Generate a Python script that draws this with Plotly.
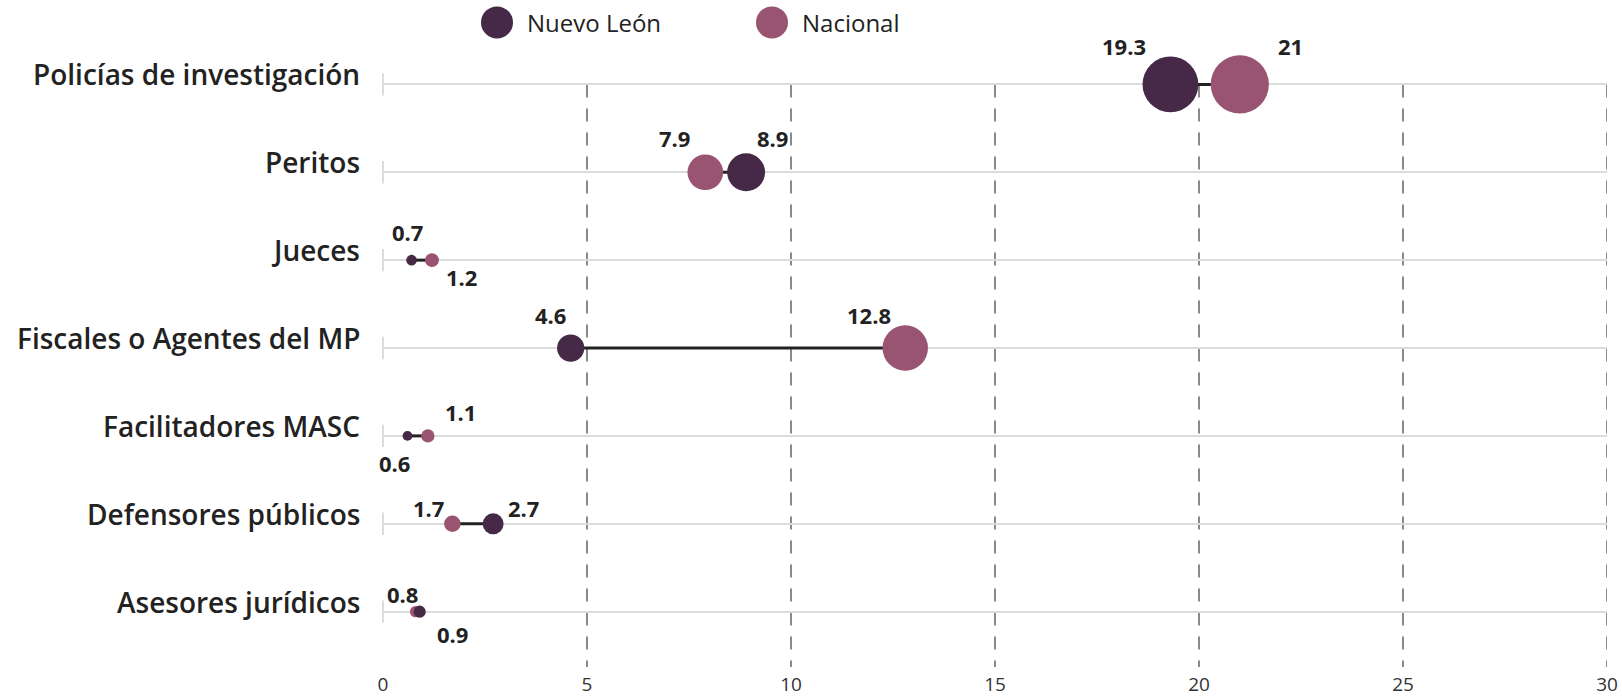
import math
import plotly.graph_objects as go

categories = ["Policías de investigación", "Peritos", "Jueces",
              "Fiscales o Agentes del MP", "Facilitadores MASC",
              "Defensores públicos", "Asesores jurídicos"]
nuevo_leon = [19.3, 8.9, 0.7, 4.6, 0.6, 2.7, 0.9]
nacional = [21, 7.9, 1.2, 12.8, 1.1, 1.7, 0.8]
series_names = ["Nuevo León", "Nacional"]
x_ticks = [0, 5, 10, 15, 20, 25, 30]

# label offsets in pixels (dx, dy up)
nl_off = [(-46, 38), (26, 34), (-4, 28), (-20, 33), (-13, -27), (30, 16), (33, -22)]
nac_off = [(51, 38), (-31, 34), (30, -17), (-36, 33), (33, 24), (-24, 16), (-13, 18)]

C_NL = "#452946"
C_NAC = "#985470"
TXT = "#222222"
FONT = "Open Sans"

ys = list(range(len(categories)))
size_k = 12.7
Y_BOTTOM = 6.63
Y_TOP = -0.05

fig = go.Figure()

# row ticks at x=0
fig.add_trace(go.Scatter(x=[0] * len(ys), y=ys, mode="markers",
                         marker=dict(symbol="line-ns", size=16, opacity=1,
                                     line=dict(color="#dcdcdc", width=2)),
                         cliponaxis=False, showlegend=False, hoverinfo="skip"))

# connectors
lx, ly = [], []
for a, b, y in zip(nuevo_leon, nacional, ys):
    lx += [a, b, None]
    ly += [y, y, None]
fig.add_trace(go.Scatter(x=lx, y=ly, mode="lines",
                         line=dict(color=TXT, width=3),
                         showlegend=False, hoverinfo="skip", cliponaxis=False))

fig.add_trace(go.Scatter(x=nacional, y=ys, mode="markers", name=series_names[1],
                         marker=dict(color=C_NAC, opacity=1,
                                     size=[size_k * math.sqrt(v) for v in nacional],
                                     line=dict(width=0)),
                         cliponaxis=False, showlegend=False))
fig.add_trace(go.Scatter(x=nuevo_leon, y=ys, mode="markers", name=series_names[0],
                         marker=dict(color=C_NL, opacity=1,
                                     size=[size_k * math.sqrt(v) for v in nuevo_leon],
                                     line=dict(width=0)),
                         cliponaxis=False, showlegend=False))

# dashed vertical grid (from first row down to the bottom of the plot)
for v in x_ticks:
    if v > 0:
        fig.add_shape(type="line", xref="x", yref="y", x0=v, x1=v, y0=0, y1=Y_BOTTOM,
                      line=dict(color="#8a8a8a", width=2, dash="13px,11px"), layer="below")

annotations = []
for vals, offs in ((nuevo_leon, nl_off), (nacional, nac_off)):
    for v, y, (dx, dy) in zip(vals, ys, offs):
        annotations.append(dict(x=v, y=y, xref="x", yref="y", text=f"{v:g}",
                                showarrow=False, xshift=dx, yshift=dy,
                                font=dict(family=FONT, size=22, color=TXT, weight=700)))
for c, y in zip(categories, ys):
    annotations.append(dict(x=0, y=y, xref="x", yref="y", text=c, showarrow=False,
                            xanchor="right", yanchor="middle", xshift=-21, yshift=10,
                            font=dict(family=FONT, size=28, color=TXT, weight=600)))

# layout geometry (pixels)
W0, W1 = 383, 1607
ROW0, H1 = 84, 667
row_px = (H1 - ROW0) / Y_BOTTOM
H0 = ROW0 + Y_TOP * row_px


def px2paper_x(px):
    return (px - W0) / (W1 - W0)


def py2paper_y(py):
    return (H1 - py) / (H1 - H0)


# custom legend
for name, col, cx in ((series_names[0], C_NL, 497), (series_names[1], C_NAC, 772)):
    fig.add_shape(type="circle", xref="paper", yref="paper",
                  xsizemode="pixel", ysizemode="pixel",
                  xanchor=px2paper_x(cx), yanchor=py2paper_y(22),
                  x0=-16, x1=16, y0=-16, y1=16,
                  fillcolor=col, line=dict(width=0))
    annotations.append(dict(x=px2paper_x(cx + 28), y=py2paper_y(22), xref="paper", yref="paper",
                            text=name, showarrow=False, xanchor="left", yanchor="middle",
                            font=dict(family=FONT, size=24, color=TXT)))

fig.update_layout(
    width=1622, height=696,
    margin=dict(l=W0, r=1622 - W1, t=H0, b=696 - H1, pad=0),
    plot_bgcolor="white", paper_bgcolor="white",
    annotations=annotations,
    showlegend=False,
    xaxis=dict(range=[0, 30], tickvals=x_ticks, showgrid=False, zeroline=False,
               showline=False, ticks="", ticklabelstandoff=4, automargin=False,
               tickfont=dict(family=FONT, size=19, color="#333333")),
    yaxis=dict(range=[Y_BOTTOM, Y_TOP], tickvals=ys, showticklabels=False, automargin=False,
               showgrid=True, gridcolor="#dcdcdc", gridwidth=2, zeroline=False,
               showline=False, ticks=""),
)

fig.write_html("out.html", config={"displayModeBar": False},
               post_script="document.body.style.margin='0';document.body.style.overflow='hidden';")
